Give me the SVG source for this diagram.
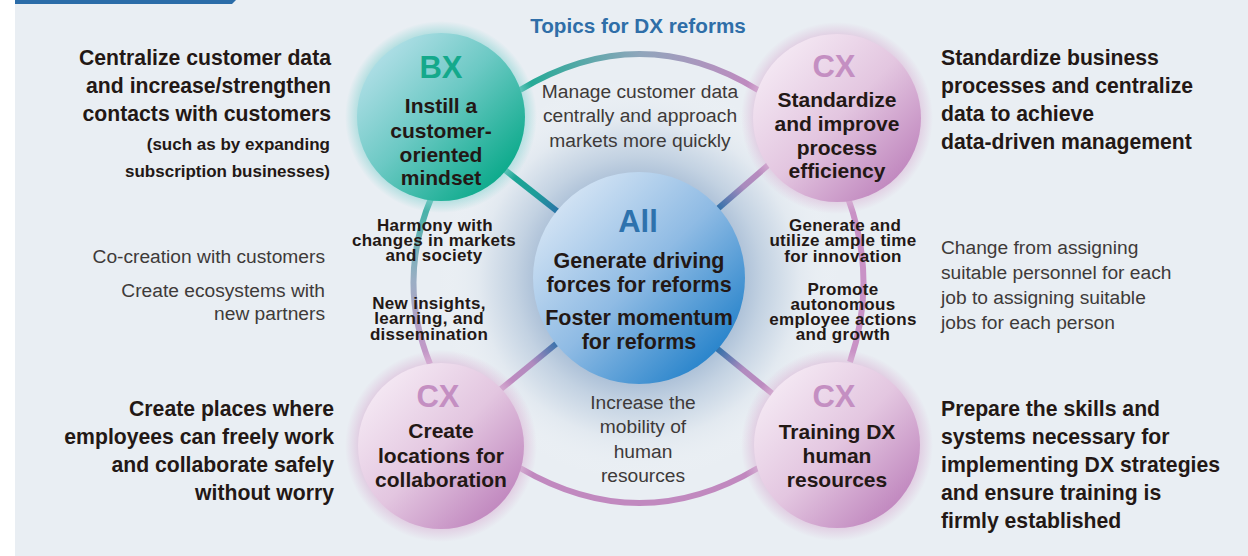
<svg xmlns="http://www.w3.org/2000/svg" width="1248" height="556" viewBox="0 0 1248 556">
<defs>
<style>
text{font-family:"Liberation Sans",Arial,sans-serif}
.b{font-weight:bold;fill:#231815}
.big{font-size:21.2px}
.sub{font-size:17px}
.gr{font-size:19.2px;fill:#3e3a39}
.ct{font-size:21px;font-weight:bold;fill:#231815;text-anchor:middle}
.lb{font-size:17px;font-weight:bold;fill:#231815;text-anchor:middle;letter-spacing:0.3px}
.cx{font-size:31px;font-weight:bold;fill:#c48fc2;text-anchor:middle}
.r{text-anchor:end}
.m{text-anchor:middle}
.ln{fill:none;stroke-width:6}
</style>
<linearGradient id="gBX" x1="0.15" y1="0.15" x2="0.85" y2="0.85">
<stop offset="0" stop-color="#abdde4"/><stop offset="0.45" stop-color="#6cc9c4"/><stop offset="1" stop-color="#0fab8d"/>
</linearGradient>
<linearGradient id="gCX" x1="0.15" y1="0.15" x2="0.85" y2="0.85">
<stop offset="0" stop-color="#f3e6f2"/><stop offset="0.5" stop-color="#e3c6e0"/><stop offset="1" stop-color="#c28ac0"/>
</linearGradient>
<linearGradient id="gAll" x1="0.15" y1="0.15" x2="0.85" y2="0.85">
<stop offset="0" stop-color="#cfe1f3"/><stop offset="0.5" stop-color="#8fbbe4"/><stop offset="1" stop-color="#2c86cc"/>
</linearGradient>
<radialGradient id="hBX"><stop offset="0.8" stop-color="#8fd5d4" stop-opacity="0.9"/><stop offset="1" stop-color="#8fd5d4" stop-opacity="0"/></radialGradient>
<radialGradient id="hCX"><stop offset="0.8" stop-color="#dcbcd9" stop-opacity="0.9"/><stop offset="1" stop-color="#dcbcd9" stop-opacity="0"/></radialGradient>
<radialGradient id="hAll"><stop offset="0.5" stop-color="#a9bed6"/><stop offset="0.62" stop-color="#c3d2e2"/><stop offset="0.8" stop-color="#e2e9f0"/><stop offset="1" stop-color="#eef2f6" stop-opacity="0"/></radialGradient>
<linearGradient id="sTop" gradientUnits="userSpaceOnUse" x1="523" y1="0" x2="755" y2="0">
<stop offset="0" stop-color="#1eaa94"/><stop offset="0.5" stop-color="#8fa6bb"/><stop offset="1" stop-color="#c289c0"/>
</linearGradient>
<linearGradient id="sLeft" gradientUnits="userSpaceOnUse" x1="0" y1="198" x2="0" y2="362">
<stop offset="0" stop-color="#3ab3a4"/><stop offset="0.5" stop-color="#9aaec4"/><stop offset="1" stop-color="#c995c8"/>
</linearGradient>
<linearGradient id="s1" gradientUnits="userSpaceOnUse" x1="505" y1="170" x2="560" y2="213">
<stop offset="0" stop-color="#1aa992"/><stop offset="0.55" stop-color="#1e9d9a"/><stop offset="1" stop-color="#2a6fa8"/>
</linearGradient>
<linearGradient id="s2" gradientUnits="userSpaceOnUse" x1="770" y1="163" x2="716" y2="210">
<stop offset="0" stop-color="#c28bc0"/><stop offset="0.5" stop-color="#a88bbd"/><stop offset="1" stop-color="#2a6fa8"/>
</linearGradient>
<linearGradient id="s3" gradientUnits="userSpaceOnUse" x1="505" y1="386" x2="560" y2="341">
<stop offset="0" stop-color="#c28bc0"/><stop offset="0.5" stop-color="#b08bbf"/><stop offset="1" stop-color="#2a6fa8"/>
</linearGradient>
<linearGradient id="s4" gradientUnits="userSpaceOnUse" x1="770" y1="392" x2="716" y2="348">
<stop offset="0" stop-color="#c28bc0"/><stop offset="0.5" stop-color="#b08bbf"/><stop offset="1" stop-color="#2a6fa8"/>
</linearGradient>
</defs>

<rect x="0" y="0" width="1248" height="556" fill="#ffffff"/>
<rect x="15" y="0" width="1233" height="556" fill="#e9eef3"/>
<path d="M15,0 H236 L232,4 H15 Z" fill="#2b6ca8"/>

<circle cx="639" cy="280" r="200" fill="url(#hAll)"/>

<g id="connectors">
<path class="ln" d="M520,90 Q640,18 758,90" stroke="url(#sTop)"/>
<path class="ln" d="M520,468 Q640,538 758,468" stroke="#c189bf"/>
<path class="ln" d="M432,196 Q396,280 430,364" stroke="url(#sLeft)"/>
<path class="ln" d="M848,198 Q878,280 850,362" stroke="#c992c6"/>
<line class="ln" x1="500" y1="166" x2="562" y2="215" stroke="url(#s1)"/>
<line class="ln" x1="774" y1="160" x2="714" y2="212" stroke="url(#s2)"/>
<line class="ln" x1="501" y1="389" x2="562" y2="339" stroke="url(#s3)"/>
<line class="ln" x1="774" y1="395" x2="714" y2="346" stroke="url(#s4)"/>
</g>

<g id="title">
<text class="m" x="638" y="33" style="font-size:20.7px;font-weight:bold;fill:#2f6ea8">Topics for DX reforms</text>
</g>

<g id="node-bx">
<circle cx="441" cy="117" r="96" fill="url(#hBX)"/>
<circle cx="441" cy="117" r="84" fill="url(#gBX)"/>
<text x="441" y="78" style="font-size:31px;font-weight:bold;fill:#14a98b;text-anchor:middle">BX</text>
<text class="ct" x="441" y="113">Instill a</text>
<text class="ct" x="441" y="138">customer-</text>
<text class="ct" x="441" y="162">oriented</text>
<text class="ct" x="441" y="185">mindset</text>
</g>

<g id="node-cx-process">
<circle cx="837" cy="118" r="96" fill="url(#hCX)"/>
<circle cx="837" cy="118" r="84" fill="url(#gCX)"/>
<text class="cx" x="834" y="77">CX</text>
<text class="ct" x="837" y="107">Standardize</text>
<text class="ct" x="837" y="131">and improve</text>
<text class="ct" x="837" y="155">process</text>
<text class="ct" x="837" y="178">efficiency</text>
</g>

<g id="node-all">
<circle cx="639" cy="278" r="106" fill="url(#gAll)"/>
<text x="638" y="232" style="font-size:31px;font-weight:bold;fill:#2e72ad;text-anchor:middle">All</text>
<text class="ct" x="639" y="268" style="font-size:21.5px">Generate driving</text>
<text class="ct" x="639" y="292" style="font-size:21.5px">forces for reforms</text>
<text class="ct" x="639" y="325" style="font-size:21.5px">Foster momentum</text>
<text class="ct" x="639" y="349" style="font-size:21.5px">for reforms</text>
</g>

<g id="node-cx-locations">
<circle cx="441" cy="446" r="96" fill="url(#hCX)"/>
<circle cx="441" cy="446" r="83" fill="url(#gCX)"/>
<text class="cx" x="438" y="407">CX</text>
<text class="ct" x="441" y="438">Create</text>
<text class="ct" x="441" y="463">locations for</text>
<text class="ct" x="441" y="487">collaboration</text>
</g>

<g id="node-cx-training">
<circle cx="837" cy="445" r="96" fill="url(#hCX)"/>
<circle cx="837" cy="445" r="83" fill="url(#gCX)"/>
<text class="cx" x="834" y="407">CX</text>
<text class="ct" x="837" y="439">Training DX</text>
<text class="ct" x="837" y="463">human</text>
<text class="ct" x="837" y="487">resources</text>
</g>

<g id="labels-inner">
<text class="gr m" x="640" y="98">Manage customer data</text>
<text class="gr m" x="640" y="122">centrally and approach</text>
<text class="gr m" x="640" y="147">markets more quickly</text>
<text class="gr m" x="643" y="409">Increase the</text>
<text class="gr m" x="643" y="433">mobility of</text>
<text class="gr m" x="643" y="458">human</text>
<text class="gr m" x="643" y="482">resources</text>
<text class="lb" x="435" y="231">Harmony with</text>
<text class="lb" x="434" y="246">changes in markets</text>
<text class="lb" x="434" y="261">and society</text>
<text class="lb" x="429" y="309">New insights,</text>
<text class="lb" x="429" y="324">learning, and</text>
<text class="lb" x="429" y="340">dissemination</text>
<text class="lb" x="845" y="231">Generate and</text>
<text class="lb" x="843" y="246">utilize ample time</text>
<text class="lb" x="843" y="262">for innovation</text>
<text class="lb" x="843" y="295">Promote</text>
<text class="lb" x="843" y="310">autonomous</text>
<text class="lb" x="843" y="325">employee actions</text>
<text class="lb" x="843" y="340">and growth</text>
</g>

<g id="labels-left">
<text class="b big r" x="331" y="65">Centralize customer data</text>
<text class="b big r" x="331" y="93">and increase/strengthen</text>
<text class="b big r" x="331" y="121">contacts with customers</text>
<text class="b sub r" x="330" y="150">(such as by expanding</text>
<text class="b sub r" x="330" y="177">subscription businesses)</text>
<text class="gr r" x="325" y="263">Co-creation with customers</text>
<text class="gr r" x="325" y="297">Create ecosystems with</text>
<text class="gr r" x="325" y="320">new partners</text>
<text class="b big r" x="334" y="416">Create places where</text>
<text class="b big r" x="334" y="444">employees can freely work</text>
<text class="b big r" x="334" y="472">and collaborate safely</text>
<text class="b big r" x="334" y="500">without worry</text>
</g>

<g id="labels-right">
<text class="b big" x="941" y="65">Standardize business</text>
<text class="b big" x="941" y="93">processes and centralize</text>
<text class="b big" x="941" y="121">data to achieve</text>
<text class="b big" x="941" y="149">data-driven management</text>
<text class="gr" x="941" y="254">Change from assigning</text>
<text class="gr" x="941" y="279">suitable personnel for each</text>
<text class="gr" x="941" y="304">job to assigning suitable</text>
<text class="gr" x="941" y="329">jobs for each person</text>
<text class="b big" x="941" y="416">Prepare the skills and</text>
<text class="b big" x="941" y="444">systems necessary for</text>
<text class="b big" x="941" y="472">implementing DX strategies</text>
<text class="b big" x="941" y="500">and ensure training is</text>
<text class="b big" x="941" y="528">firmly established</text>
</g>
</svg>
